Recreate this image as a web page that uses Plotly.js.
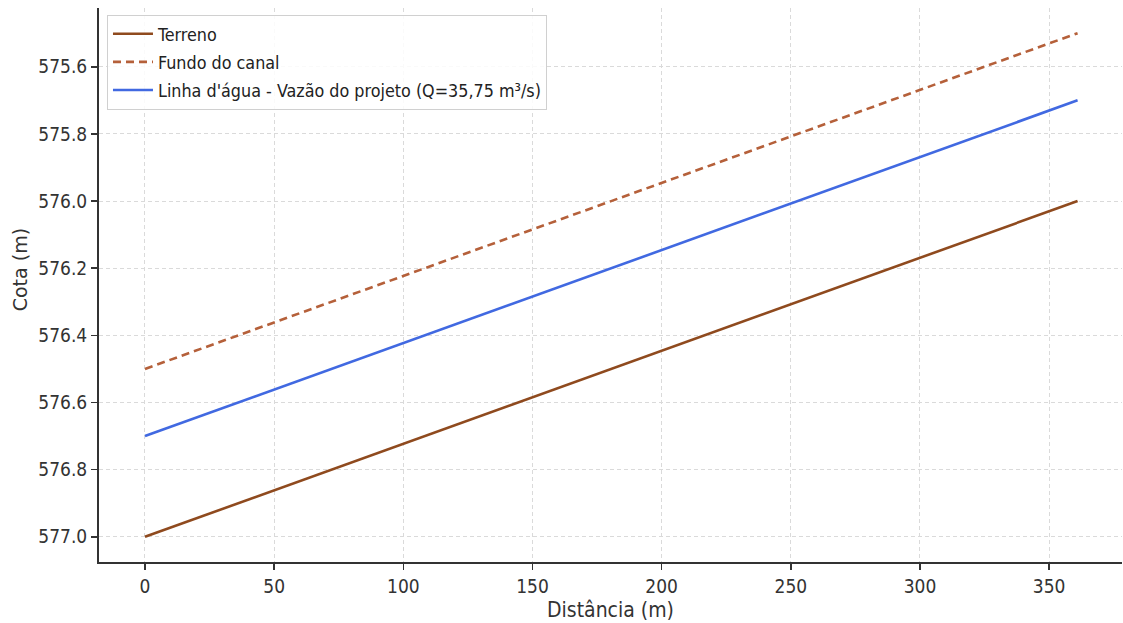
<!DOCTYPE html>
<html>
<head>
<meta charset="utf-8">
<script src="https://cdn.plot.ly/plotly-3.0.1.min.js"></script>
<style>html,body{margin:0;padding:0;background:#fff;}#chart{width:1123px;height:623px;}</style>
</head>
<body>
<div id="chart"></div>
<script>
const distancia = [0, 361];
const terreno = [577.0, 576.0];
const fundoCanal = [576.5, 575.5];
const linhaAgua = [576.7, 575.7];
const yTicks = [575.6, 575.8, 576.0, 576.2, 576.4, 576.6, 576.8, 577.0];
const xTicks = [0, 50, 100, 150, 200, 250, 300, 350];

const FONT = '"DejaVu Sans Condensed", "DejaVu Sans", sans-serif';
const FONT_REG = '"DejaVu Sans", sans-serif';

const traces = [
  {x: distancia, y: terreno, mode: 'lines', name: 'Terreno', legendgroup: 'a',
   line: {color: '#8F4A1E', width: 2.6}},
  {x: distancia, y: fundoCanal, mode: 'lines', name: 'Fundo do canal', legendgroup: 'b',
   line: {color: '#B5603A', width: 2.6, dash: '8px,5px'}},
  {x: distancia, y: linhaAgua, mode: 'lines', name: "Linha d'água - Vazão do projeto (Q=35,75 m³/s)", legendgroup: 'c',
   line: {color: '#4169E1', width: 2.6}}
];

const layout = {
  width: 1123, height: 623,
  margin: {l: 99, r: 1, t: 8, b: 61},
  paper_bgcolor: '#fff', plot_bgcolor: '#fff',
  font: {family: FONT, color: '#333', size: 19},
  showlegend: true,
  legend: {
    x: 0.0078, y: 0.988, xanchor: 'left', yanchor: 'top',
    bgcolor: 'rgba(255,255,255,0.85)', bordercolor: '#d0d0d0', borderwidth: 1,
    font: {family: FONT, size: 17.8, color: '#222'},
    tracegroupgap: 2, itemwidth: 40
  },
  xaxis: {
    range: [-17.8, 378.2], tickvals: xTicks, ticktext: xTicks.map(String),
    showgrid: true, gridcolor: '#dadada', griddash: '4px,3px', gridwidth: 1,
    zeroline: false, showline: true, linecolor: '#333', linewidth: 2,
    ticks: 'outside', ticklen: 6, tickcolor: '#333', tickwidth: 1.5,
    tickfont: {family: FONT, size: 19, color: '#333'},
    title: {text: 'Distância (m)', font: {family: FONT, size: 21, color: '#333'}, standoff: 7}
  },
  yaxis: {
    range: [577.075, 575.425], tickvals: yTicks, ticktext: yTicks.map(v => v.toFixed(1)),
    showgrid: true, gridcolor: '#dadada', griddash: '4px,3px', gridwidth: 1,
    zeroline: false, showline: true, linecolor: '#333', linewidth: 2,
    ticks: 'outside', ticklen: 6, tickcolor: '#333', tickwidth: 1.5,
    tickfont: {family: FONT, size: 19, color: '#333'}
  },
  annotations: [{
    text: 'Cota (m)', xref: 'paper', yref: 'paper', x: -0.077, y: 0.527,
    xanchor: 'center', yanchor: 'middle', showarrow: false, textangle: -90,
    font: {family: FONT_REG, size: 19, color: '#333'}
  }]
};

Plotly.newPlot('chart', traces, layout, {displayModeBar: false, staticPlot: true});
</script>
</body>
</html>
